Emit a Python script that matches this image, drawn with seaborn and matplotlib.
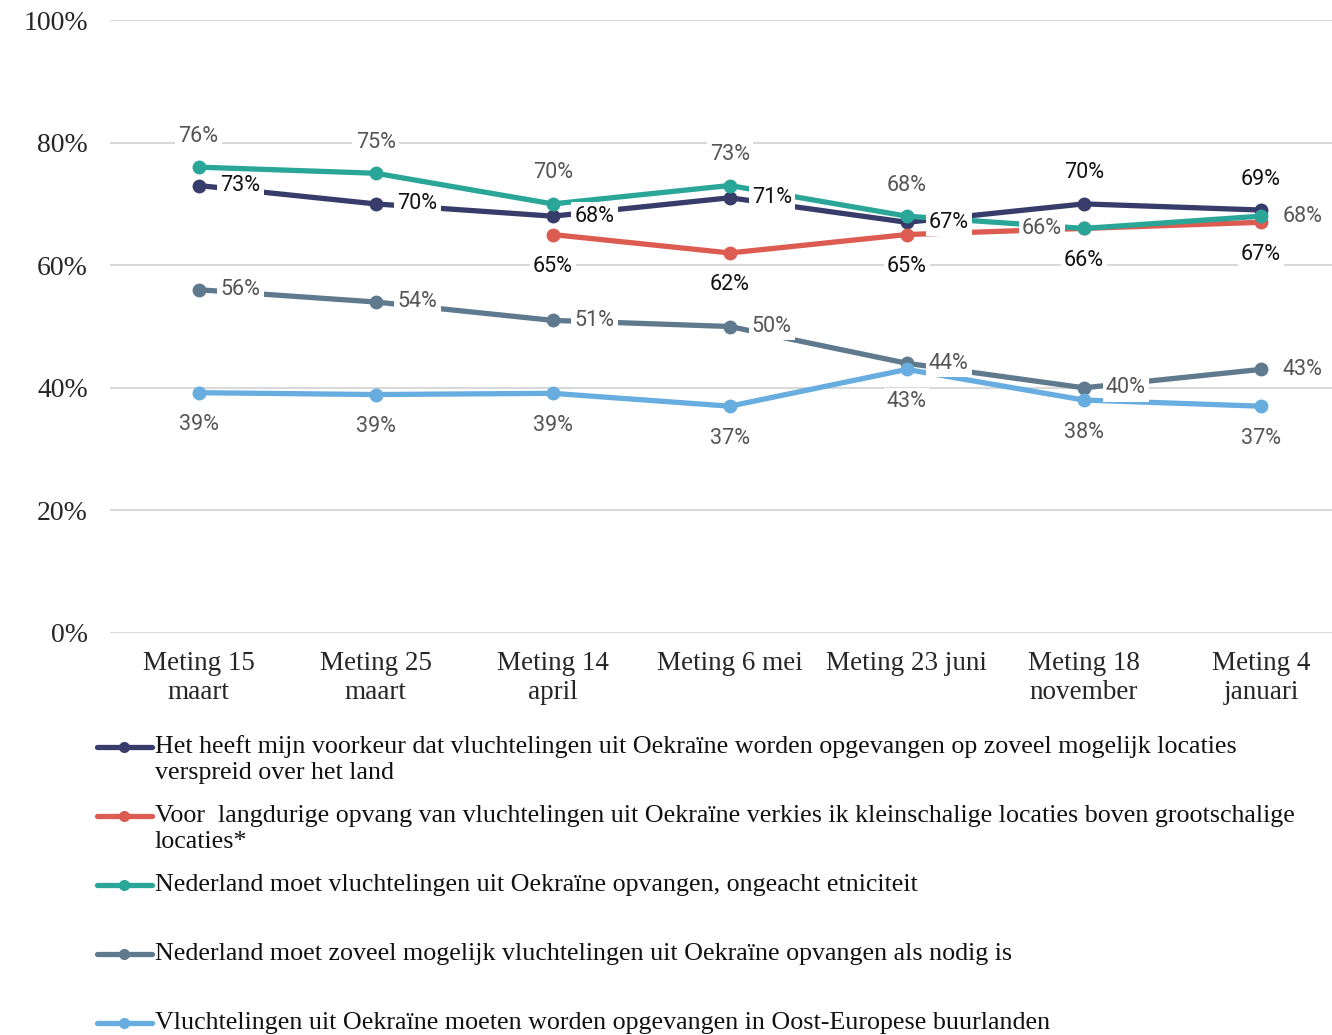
import numpy as np
import pandas as pd
import matplotlib.pyplot as plt
import seaborn as sns
from matplotlib.lines import Line2D

categories = ["Meting 15\nmaart", "Meting 25\nmaart", "Meting 14\napril", "Meting 6 mei",
              "Meting 23 juni", "Meting 18\nnovember", "Meting 4\njanuari"]
series_names = [
    "Het heeft mijn voorkeur dat vluchtelingen uit Oekraïne worden opgevangen op zoveel mogelijk locaties\nverspreid over het land",
    "Voor  langdurige opvang van vluchtelingen uit Oekraïne verkies ik kleinschalige locaties boven grootschalige\nlocaties*",
    "Nederland moet vluchtelingen uit Oekraïne opvangen, ongeacht etniciteit",
    "Nederland moet zoveel mogelijk vluchtelingen uit Oekraïne opvangen als nodig is",
    "Vluchtelingen uit Oekraïne moeten worden opgevangen in Oost-Europese buurlanden",
]
voorkeur_spreiding = [73, 70, 68, 71, 67, 70, 69]
kleinschalig = [np.nan, np.nan, 65, 62, 65, 66, 67]
ongeacht_etniciteit = [76, 75, 70, 73, 68, 66, 68]
zoveel_als_nodig = [56, 54, 51, 50, 44, 40, 43]
oost_europa = [39.2, 38.9, 39.1, 37, 43, 38, 37]

colors = ["#383c6a", "#dc5c51", "#2aa699", "#5f7a8f", "#67ade0"]
label_colors = ["#111111", "#111111", "#555555", "#555555", "#555555"]
# label placement per point: r = right, a = above, b = below, l = left
placements = [
    ["r", "r", "r", "r", "r", "a", "a"],
    ["b"] * 7,
    ["a", "a", "a", "a", "a", "l", "r"],
    ["r"] * 7,
    ["b"] * 7,
]

all_values = [voorkeur_spreiding, kleinschalig, ongeacht_etniciteit, zoveel_als_nodig, oost_europa]
rows = []
for name, vals in zip(series_names, all_values):
    for i, v in enumerate(vals):
        rows.append({"serie": name, "x": i, "waarde": v})
df = pd.DataFrame(rows)

sns.set_style("white")
fig = plt.figure(figsize=(13.32, 10.35), dpi=100)
ax = fig.add_axes([110 / 1332, 1 - 633 / 1035, 1239.5 / 1332, 613 / 1035])

sns.lineplot(data=df, x="x", y="waarde", hue="serie", hue_order=series_names,
             palette=colors, marker="o", markersize=10, markeredgewidth=0,
             linewidth=3.8, legend=False, ax=ax, zorder=3)

offsets = {"r": (22, 0, "left", "center"), "a": (0, 31, "center", "center"),
           "b": (0, -32, "center", "center"), "l": (-22, 0, "right", "center")}
for vals, place, lc in zip(all_values, placements, label_colors):
    for i, v in enumerate(vals):
        if np.isnan(v):
            continue
        dx, dy, ha, va = offsets[place[i]]
        ax.annotate(f"{round(v):d}%", (i, v), xytext=(dx, dy), textcoords="offset pixels",
                    ha=ha, va=va, fontsize=15.5, family="Roboto", color=lc, zorder=5,
                    bbox=dict(boxstyle="square,pad=0.15", fc="white", ec="none"))

ax.set_xlim(-0.5, 6.5)
ax.set_ylim(0, 100)
ax.set_yticks(range(0, 101, 20))
ax.set_yticklabels([f"{t}%" for t in range(0, 101, 20)], family="Liberation Serif", fontsize=20)
ax.set_xticks(range(len(categories)))
ax.set_xticklabels(categories, family="Liberation Serif", fontsize=19.5, linespacing=1.2)
ax.tick_params(axis="y", length=0, pad=16)
ax.tick_params(axis="x", length=0, pad=13)
ax.grid(axis="y", color="#d9d9d9", linewidth=1.5)
ax.set_axisbelow(True)
for s in ax.spines.values():
    s.set_visible(False)
ax.set_xlabel("")
ax.set_ylabel("")

# legend, one slot per series
for k, (name, c) in enumerate(zip(series_names, colors)):
    yc = 747 + k * 69
    fig.add_artist(Line2D([97 / 1332, 152 / 1332], [1 - yc / 1035] * 2, color=c, linewidth=3.8,
                          marker=None, transform=fig.transFigure))
    fig.add_artist(Line2D([124 / 1332], [1 - yc / 1035], color=c, marker="o", markersize=8,
                          markeredgewidth=0, transform=fig.transFigure))
    for j, line in enumerate(name.split("\n")):
        fig.text(155 / 1332, 1 - (yc + j * 26) / 1035, line, family="Liberation Serif",
                 fontsize=18.7, va="center", ha="left", color="#111111")

fig.savefig("out.png", dpi=100)
